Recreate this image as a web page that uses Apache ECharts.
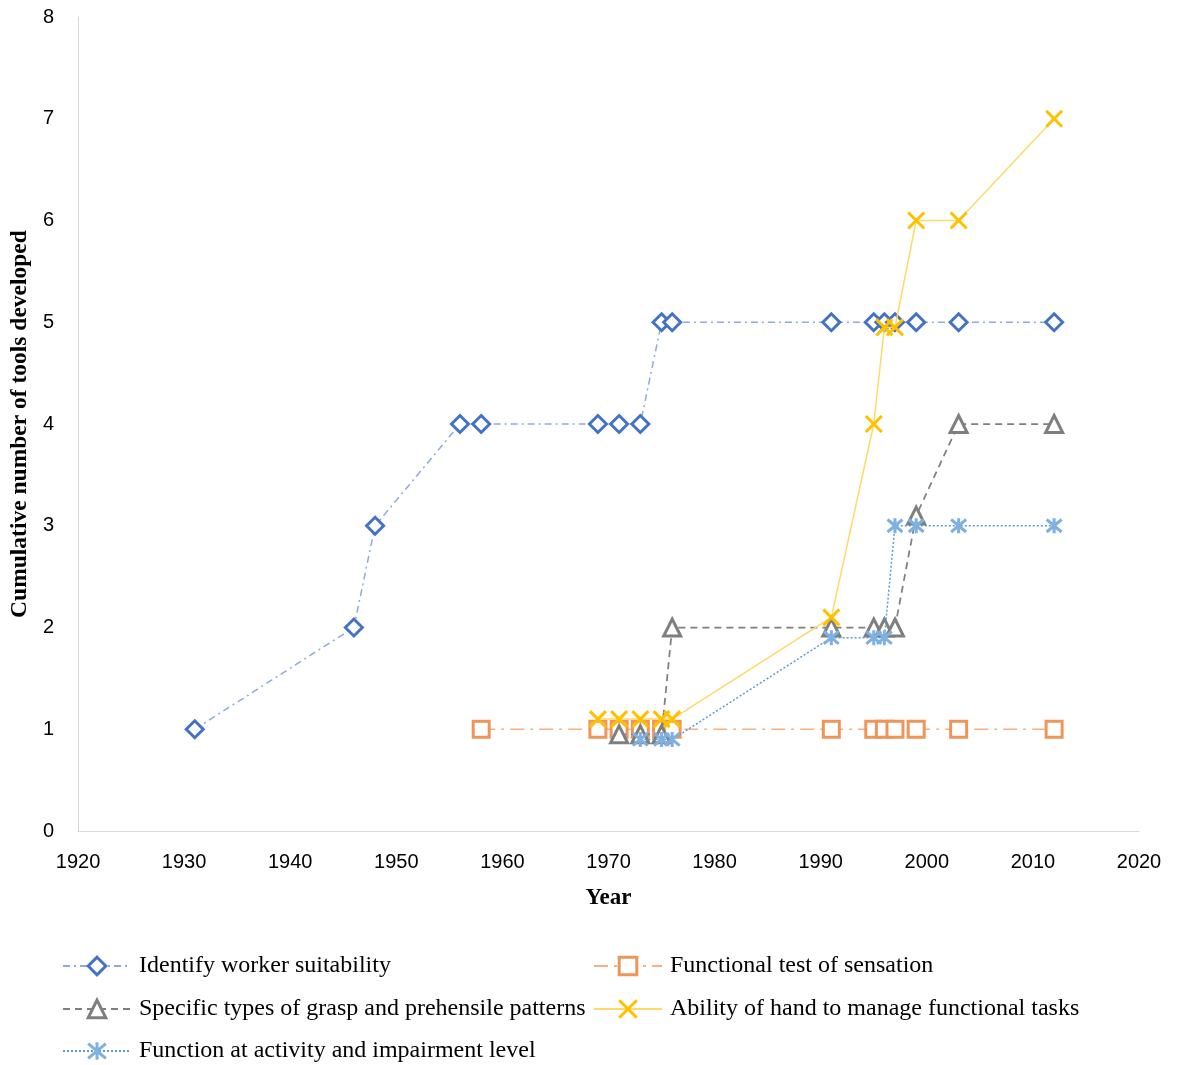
<!DOCTYPE html>
<html>
<head>
<meta charset="utf-8">
<script src="https://cdn.jsdelivr.net/npm/echarts@6/dist/echarts.min.js"></script>
<style>
  html, body { margin: 0; padding: 0; background: #fff; }
  #chart { width: 1178px; height: 1065px; }
</style>
</head>
<body>
<div id="chart"></div>
<script>
// Cumulative number of hand-function assessment tools, by year and purpose
const seriesNames = [
  'Identify worker suitability',
  'Functional test of sensation',
  'Specific types of grasp and prehensile patterns',
  'Ability of hand to manage functional tasks',
  'Function at activity and impairment level'
];

const workerYears = [1931, 1946, 1948, 1956, 1958, 1969, 1971, 1973, 1975, 1976, 1991, 1995, 1996, 1997, 1999, 2003, 2012];
const workerCount = [1, 2, 3, 4, 4, 4, 4, 4, 5, 5, 5, 5, 5, 5, 5, 5, 5];

const sensationYears = [1958, 1969, 1971, 1973, 1975, 1976, 1991, 1995, 1996, 1997, 1999, 2003, 2012];
const sensationCount = [1, 1, 1, 1, 1, 1, 1, 1, 1, 1, 1, 1, 1];

const graspYears = [1971, 1973, 1975, 1976, 1991, 1995, 1996, 1997, 1999, 2003, 2012];
const graspCount = [0.95, 0.95, 0.95, 2, 2, 2, 2, 2, 3.1, 4, 4];

const tasksYears = [1969, 1971, 1973, 1975, 1976, 1991, 1995, 1996, 1997, 1999, 2003, 2012];
const tasksCount = [1.1, 1.1, 1.1, 1.1, 1.1, 2.1, 4, 4.95, 4.95, 6, 6, 7];

const activityYears = [1973, 1975, 1976, 1991, 1995, 1996, 1997, 1999, 2003, 2012];
const activityCount = [0.9, 0.9, 0.9, 1.9, 1.9, 1.9, 3, 3, 3, 3];

const xTicks = { min: 1920, max: 2020, step: 10 };
const yTicks = { min: 0, max: 8, step: 1 };

const pairs = (xs, ys) => xs.map((x, i) => [x, ys[i]]);

const crossPath = 'path://M0,0 L10,10 M10,0 L0,10';
const starPath = 'path://M0,0 L10,10 M10,0 L0,10 M5,-1 L5,11';

const serif = '"Liberation Serif", "Times New Roman", serif';
const sans = '"Liberation Sans", Arial, sans-serif';

const styles = [
  { line: { color: '#8FAADC', width: 1.5, type: [7, 4, 2, 4] }, symbol: 'diamond', size: 17,
    item: { color: '#fff', borderColor: '#4472C4', borderWidth: 3 } },
  { line: { color: '#F4B183', width: 1.5, type: [14, 6, 3, 6] }, symbol: 'rect', size: 16,
    item: { color: '#fff', borderColor: '#F0955A', borderWidth: 3 } },
  { line: { color: '#7F7F7F', width: 1.75, type: [7, 5] }, symbol: 'triangle', size: 17,
    item: { color: '#fff', borderColor: '#7F7F7F', borderWidth: 3 } },
  { line: { color: '#FFD966', width: 1.5, type: 'solid' }, symbol: crossPath, size: 16,
    item: { color: '#FFC000', borderColor: '#FFC000', borderWidth: 3 } },
  { line: { color: '#5B9BD5', width: 1.5, type: [2, 2] }, symbol: starPath, size: 15,
    item: { color: '#7EB0E0', borderColor: '#7EB0E0', borderWidth: 3 } }
];

const dataSets = [
  pairs(workerYears, workerCount),
  pairs(sensationYears, sensationCount),
  pairs(graspYears, graspCount),
  pairs(tasksYears, tasksCount),
  pairs(activityYears, activityCount)
];

const legendSpots = [
  { left: 62, top: 954 },
  { left: 593, top: 954 },
  { left: 62, top: 997 },
  { left: 593, top: 997 },
  { left: 62, top: 1039 }
];

const chart = echarts.init(document.getElementById('chart'), null, { renderer: 'canvas' });

chart.setOption({
  animation: false,
  backgroundColor: '#fff',
  grid: { left: 78, right: 39, top: 17, bottom: 234, containLabel: false },
  xAxis: {
    type: 'value',
    min: xTicks.min, max: xTicks.max, interval: xTicks.step,
    name: 'Year',
    nameLocation: 'middle',
    nameGap: 56,
    nameTextStyle: { fontFamily: serif, fontWeight: 'bold', fontSize: 23, color: '#000', verticalAlign: 'top' },
    axisLine: { show: true, lineStyle: { color: '#D9D9D9', width: 1 } },
    axisTick: { show: false },
    splitLine: { show: false },
    axisLabel: { fontFamily: sans, fontSize: 20, color: '#000', margin: 21, formatter: v => String(v) }
  },
  yAxis: {
    type: 'value',
    min: yTicks.min, max: yTicks.max, interval: yTicks.step,
    name: 'Cumulative number of tools developed',
    nameLocation: 'middle',
    nameGap: 45,
    nameTextStyle: { fontFamily: serif, fontWeight: 'bold', fontSize: 23.5, color: '#000' },
    axisLine: { show: true, lineStyle: { color: '#D9D9D9', width: 1 } },
    axisTick: { show: false },
    splitLine: { show: false },
    axisLabel: { fontFamily: sans, fontSize: 20, color: '#000', margin: 24 }
  },
  legend: seriesNames.map((name, i) => ({
    data: [name],
    left: legendSpots[i].left,
    top: legendSpots[i].top,
    padding: 0,
    itemWidth: 68,
    itemHeight: 22,
    itemStyle: { borderWidth: 3 },
    textStyle: { fontFamily: serif, fontSize: 24, color: '#000', padding: [0, 0, 0, 3] }
  })),
  series: seriesNames.map((name, i) => ({
    name,
    type: 'line',
    data: dataSets[i],
    symbol: styles[i].symbol,
    symbolSize: styles[i].size,
    showAllSymbol: true,
    lineStyle: styles[i].line,
    itemStyle: styles[i].item,
    emphasis: { disabled: true },
    z: 2 + i
  }))
});
</script>
</body>
</html>
